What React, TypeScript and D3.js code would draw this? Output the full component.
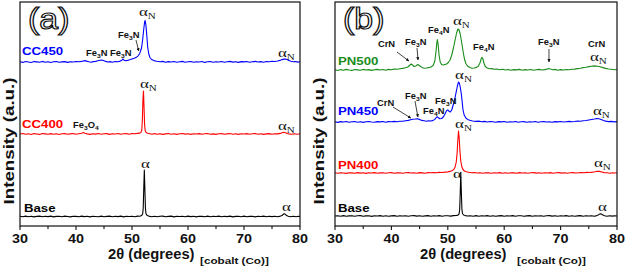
import React from 'react';
import * as d3 from 'd3';

type Pt = [number, number];

const X_TICKS = [30, 40, 50, 60, 70, 80];
const X_MINOR = [35, 45, 55, 65, 75];
const X_DOMAIN: [number, number] = [30, 80];
const Y_DOMAIN: [number, number] = [0, 224];

// ---------- Panel (a) traces (2θ, relative intensity a.u.) ----------
const baseA: Pt[] = [
  [30,0.2],[30.5,-0.3],[31,0.4],[31.5,-0.2],[32,0.3],[32.5,-0.4],[33,0.1],[33.5,0.4],[34,-0.3],[34.5,0.2],[35,-0.1],[35.5,0.4],[36,-0.4],[36.5,0.1],[37,0.3],[37.5,-0.3],[38,0.4],[38.5,0],[39,-0.4],[39.5,0.3],[40,0.1],[40.5,-0.3],[41,0.4],[41.5,-0.1],[42,0.2],[42.5,-0.4],[43,0.3],[43.5,0],[44,-0.3],[44.5,0.4],[45,-0.2],[45.5,0.1],[46,0.4],[46.5,-0.3],[47,0.2],[47.5,-0.1],[48,0.4],[48.5,-0.4],[49,0.2],[49.5,0],[50,0.3],[50.5,-0.3],[51,0.4],[51.4,0.3],[51.7,0.9],[51.9,2.5],[52.0,8],[52.1,28],[52.2,46.5],[52.3,27],[52.4,8],[52.5,2.8],[52.7,1.1],[53.0,0.4],[53.5,-0.2],[54,0.3],[54.5,-0.3],[55,0.2],[55.5,0.4],[56,-0.3],[56.5,0.1],[57,0.4],[57.5,-0.4],[58,0.2],[58.5,0],[59,0.3],[59.5,-0.3],[60,0.4],[60.5,-0.1],[61,0.2],[61.5,-0.4],[62,0.3],[62.5,0.1],[63,-0.3],[63.5,0.4],[64,-0.2],[64.5,0.2],[65,0],[65.5,0.4],[66,-0.3],[66.5,0.2],[67,-0.1],[67.5,0.4],[68,-0.4],[68.5,0.1],[69,0.3],[69.5,-0.2],[70,0.4],[70.5,-0.3],[71,0.1],[71.5,0.3],[72,-0.4],[72.5,0.2],[73,0],[73.5,0.4],[74,-0.3],[74.5,0.2],[75,-0.1],[75.5,0.3],[76,-0.3],[76.5,0.4],[76.8,1],[77.0,2.2],[77.2,2.8],[77.4,2.1],[77.6,0.9],[77.9,0.3],[78.3,-0.2],[78.8,0.3],[79.3,-0.3],[79.7,0.2],[80,0]
];
const cc400: Pt[] = [
  [30,0],[30.5,0.5],[31,-0.3],[31.5,0.2],[32,-0.5],[32.5,0.4],[33,0],[33.5,-0.4],[34,0.5],[34.5,0.1],[35,-0.3],[35.5,0.4],[36,-0.2],[36.5,0.3],[37,-0.5],[37.5,0.2],[38,0.4],[38.5,-0.3],[39,0.1],[39.5,0.5],[40,-0.2],[40.5,0.3],[41,0.8],[41.3,1.4],[41.6,0.7],[42,0.1],[42.5,-0.4],[43,0.3],[43.5,-0.1],[44,0.5],[44.5,-0.3],[45,0.2],[45.5,0.4],[46,-0.4],[46.5,0.3],[47,0],[47.5,0.5],[48,-0.3],[48.5,0.2],[49,0.4],[49.5,-0.2],[50,0.5],[50.5,0.2],[51,0.6],[51.4,0.9],[51.6,1.6],[51.75,4],[51.85,14],[51.95,34],[52.05,43],[52.15,27],[52.25,9],[52.35,3.5],[52.5,1.6],[52.8,0.8],[53.2,0.3],[53.6,-0.3],[54,0.4],[54.5,-0.2],[55,0.3],[55.5,-0.4],[56,0.1],[56.5,0.5],[57,-0.2],[57.5,0.3],[58,-0.4],[58.5,0.2],[59,0.5],[59.5,-0.1],[60,0.3],[60.5,-0.4],[61,0.2],[61.5,0],[62,0.4],[62.5,-0.3],[63,0.2],[63.5,0.5],[64,-0.2],[64.5,0.1],[65,-0.4],[65.5,0.3],[66,0.4],[66.5,-0.3],[67,0.1],[67.5,0.5],[68,-0.2],[68.5,0.3],[69,-0.4],[69.5,0.2],[70,0],[70.5,0.4],[71,-0.3],[71.5,0.2],[72,0.5],[72.5,-0.2],[73,0.3],[73.5,-0.4],[74,0.1],[74.5,0.4],[75,-0.2],[75.5,0.3],[76,0.1],[76.5,0.6],[76.8,1.2],[77.1,1.7],[77.4,1.2],[77.7,0.5],[78,0.1],[78.5,-0.3],[79,0.3],[79.5,-0.2],[80,0.2]
];
const cc450: Pt[] = [
  [30,0.3],[30.5,-0.4],[31,0.5],[31.5,0],[32,-0.5],[32.5,0.4],[33,0.1],[33.5,-0.3],[34,0.6],[34.5,-0.2],[35,0.3],[35.5,-0.5],[36,0.2],[36.5,0.5],[37,-0.3],[37.5,0.1],[38,0.4],[38.5,-0.4],[39,0.3],[39.5,0],[40,0.5],[40.5,0.2],[41,0.6],[41.3,1],[41.6,1.4],[41.9,0.9],[42.3,0.3],[42.7,-0.2],[43.1,0.4],[43.5,0.6],[43.9,1.2],[44.3,1.7],[44.6,2],[44.9,1.4],[45.3,0.6],[45.7,0],[46.1,0.4],[46.5,-0.2],[47,0.5],[47.5,0.3],[47.9,0.9],[48.2,1.8],[48.4,3],[48.6,1.7],[48.9,1.2],[49.2,1.6],[49.6,2.2],[50,3],[50.4,3.7],[50.8,4.8],[51.1,6.2],[51.4,8.8],[51.7,14],[51.9,22],[52.1,33],[52.25,40],[52.35,41.5],[52.5,36],[52.65,26],[52.8,15],[53,8],[53.2,4.5],[53.5,2.5],[53.9,1.4],[54.4,0.8],[55,0.2],[55.5,0.6],[56,-0.2],[56.5,0.4],[57,0],[57.5,0.5],[58,-0.3],[58.5,0.3],[59,0.6],[59.5,-0.2],[60,0.2],[60.5,0.5],[61,-0.3],[61.5,0.3],[62,0],[62.5,0.5],[63,-0.4],[63.5,0.2],[64,0.5],[64.5,-0.2],[65,0.3],[65.5,0],[66,0.5],[66.5,-0.3],[67,0.2],[67.5,0.6],[68,-0.1],[68.5,0.3],[69,-0.4],[69.5,0.4],[70,0.1],[70.5,0.5],[71,-0.2],[71.5,0.3],[72,0.6],[72.5,0],[73,0.4],[73.5,-0.2],[74,0.5],[74.5,0.3],[75,0.7],[75.5,0.5],[76,1],[76.4,1.6],[76.8,2.4],[77.1,2.9],[77.4,3],[77.7,2.4],[78,1.5],[78.4,0.7],[78.8,0.2],[79.2,0.5],[79.6,-0.1],[80,0.3]
];

// ---------- Panel (b) traces ----------
const baseB: Pt[] = [
  [30,0],[30.5,0.3],[31,-0.2],[31.5,0.4],[32,-0.3],[32.5,0.1],[33,0.3],[33.5,-0.3],[34,0.2],[34.5,0.4],[35,-0.2],[35.5,0.1],[36,0.3],[36.5,-0.4],[37,0.2],[37.5,0],[38,0.4],[38.5,-0.2],[39,0.3],[39.5,-0.3],[40,0.1],[40.5,0.4],[41,-0.2],[41.5,0.2],[42,0],[42.5,0.3],[43,-0.3],[43.5,0.2],[44,0.4],[44.5,-0.1],[45,0.3],[45.5,-0.3],[46,0.1],[46.5,0.4],[47,-0.2],[47.5,0.2],[48,0],[48.5,0.4],[49,-0.3],[49.5,0.2],[50,0.3],[50.5,-0.1],[51,0.4],[51.5,0.5],[51.8,0.9],[52.0,2.2],[52.1,6],[52.2,22],[52.3,43],[52.4,24],[52.5,7],[52.6,2.5],[52.8,1],[53.1,0.4],[53.5,0],[54,0.3],[54.5,-0.2],[55,0.4],[55.5,-0.3],[56,0.2],[56.5,0],[57,0.4],[57.5,-0.2],[58,0.3],[58.5,-0.3],[59,0.1],[59.5,0.4],[60,-0.2],[60.5,0.2],[61,0],[61.5,0.4],[62,-0.3],[62.5,0.2],[63,0.3],[63.5,-0.2],[64,0.1],[64.5,0.4],[65,-0.3],[65.5,0.2],[66,0],[66.5,0.3],[67,-0.3],[67.5,0.2],[68,0.4],[68.5,-0.1],[69,0.2],[69.5,-0.3],[70,0.3],[70.5,0],[71,0.4],[71.5,-0.2],[72,0.2],[72.5,-0.3],[73,0.1],[73.5,0.4],[74,-0.2],[74.5,0.2],[75,0],[75.5,0.3],[76,-0.2],[76.4,0.4],[76.7,1.1],[76.9,1.9],[77.1,2.3],[77.3,1.8],[77.5,0.9],[77.8,0.3],[78.2,-0.2],[78.7,0.3],[79.2,-0.1],[79.6,0.3],[80,0]
];
const pn400: Pt[] = [
  [30,0.2],[30.5,-0.3],[31,0.3],[31.5,0],[32,-0.4],[32.5,0.3],[33,0.1],[33.5,-0.3],[34,0.4],[34.5,-0.1],[35,0.2],[35.5,-0.4],[36,0.3],[36.5,0],[37,0.4],[37.5,-0.3],[38,0.1],[38.5,0.3],[39,-0.3],[39.5,0.2],[40,0.4],[40.5,-0.2],[41,0.1],[41.5,0.3],[42,-0.3],[42.5,0.2],[43,0.4],[43.5,0],[44,0.3],[44.5,-0.2],[45,0.4],[45.5,0.1],[46,-0.2],[46.5,0.4],[47,0.2],[47.5,0.5],[48,0.2],[48.5,0.6],[49,0.5],[49.5,0.9],[50,1.1],[50.4,1.6],[50.8,2.4],[51.1,3.8],[51.3,6],[51.5,11],[51.65,20],[51.78,33],[51.9,42],[52.02,35],[52.15,22],[52.3,12],[52.5,6],[52.7,3.5],[52.95,2],[53.3,1.2],[53.7,0.7],[54.2,0.3],[54.7,0.5],[55.2,0],[55.7,0.3],[56.2,-0.2],[56.7,0.3],[57.2,0.1],[57.7,-0.3],[58.2,0.3],[58.7,0],[59.2,0.4],[59.7,-0.2],[60.2,0.2],[60.7,-0.3],[61.2,0.3],[61.7,0.1],[62.2,-0.2],[62.7,0.4],[63.2,0],[63.7,0.3],[64.2,-0.3],[64.7,0.2],[65.2,0.4],[65.7,-0.1],[66.2,0.2],[66.7,-0.3],[67.2,0.3],[67.7,0],[68.2,0.4],[68.7,-0.2],[69.2,0.2],[69.7,0.4],[70.2,-0.1],[70.7,0.3],[71.2,-0.3],[71.7,0.2],[72.2,0.4],[72.7,0],[73.2,0.3],[73.7,0.5],[74.2,0.2],[74.7,0.6],[75.2,0.5],[75.7,0.9],[76.1,1.3],[76.5,1.8],[76.9,1.6],[77.3,1],[77.7,0.4],[78.2,0.2],[78.7,-0.2],[79.2,0.3],[79.6,0],[80,0.2]
];
const pn450: Pt[] = [
  [30,0.3],[30.5,-0.4],[31,0.4],[31.5,0],[32,0.5],[32.5,-0.3],[33,0.2],[33.5,0.5],[34,-0.2],[34.5,0.3],[35,-0.4],[35.5,0.2],[36,0.5],[36.5,0],[37,-0.3],[37.5,0.4],[38,0.1],[38.5,0.5],[39,-0.2],[39.5,0.4],[40,0.2],[40.5,0.6],[41,0.3],[41.5,0.8],[42,0.7],[42.5,1.2],[43,1.6],[43.4,2.2],[43.8,2.8],[44.2,3],[44.6,3.3],[45,2.6],[45.4,1.6],[45.8,1.2],[46.2,0.8],[46.6,1.3],[47,1],[47.4,1.6],[47.7,2.6],[47.95,4.5],[48.15,5.2],[48.35,4.2],[48.6,3.2],[48.9,3.5],[49.2,5],[49.5,8],[49.8,11.5],[50.0,12],[50.2,10.8],[50.45,10],[50.7,12],[50.95,17],[51.2,22],[51.45,29],[51.7,36],[51.9,40],[52.05,39],[52.2,35],[52.4,28],[52.55,20],[52.7,12],[52.9,7],[53.2,4],[53.5,2.6],[53.9,1.7],[54.4,1],[55,0.6],[55.5,0.9],[56,0.3],[56.5,0.6],[57,0],[57.5,0.5],[58,0.2],[58.5,-0.3],[59,0.4],[59.5,0.1],[60,0.5],[60.5,-0.2],[61,0.3],[61.5,0],[62,0.5],[62.5,-0.3],[63,0.2],[63.5,0.4],[64,-0.2],[64.5,0.3],[65,0],[65.5,0.5],[66,-0.3],[66.5,0.2],[67,0.4],[67.5,0],[68,0.3],[68.5,-0.2],[69,0.4],[69.5,0.1],[70,0.5],[70.5,0],[71,0.3],[71.5,0.6],[72,0.2],[72.5,0.5],[73,0.9],[73.5,0.7],[74,1.2],[74.5,1.5],[75,2],[75.5,2.5],[76,3],[76.4,3.5],[76.8,3.2],[77.2,2.4],[77.6,1.5],[78,0.9],[78.5,0.4],[79,0.6],[79.5,0.1],[80,0.4]
];
const pn500: Pt[] = [
  [30,0.2],[30.5,-0.5],[31,0.4],[31.5,-0.2],[32,0.6],[32.5,0],[33,-0.4],[33.5,0.5],[34,0.1],[34.5,-0.3],[35,0.6],[35.5,0],[36,0.4],[36.5,-0.4],[37,0.3],[37.5,0.6],[38,0],[38.5,0.5],[39,-0.2],[39.5,0.6],[40,0.3],[40.5,0.9],[41,0.7],[41.5,1.3],[42,1.6],[42.5,2.2],[42.9,3],[43.2,4.5],[43.5,6],[43.75,5],[44.0,3.5],[44.3,4],[44.7,5.5],[45.0,4.2],[45.4,2.6],[45.8,1.8],[46.2,2],[46.6,2.4],[47,3],[47.4,4.5],[47.7,9],[47.9,18],[48.05,27],[48.15,30.5],[48.28,26],[48.45,15],[48.65,8],[48.9,5.5],[49.2,5],[49.5,5.6],[49.8,6],[50.1,7.5],[50.4,10],[50.7,15],[51.0,22],[51.3,30],[51.55,37],[51.8,41],[52.0,40],[52.2,36],[52.45,28],[52.7,19],[52.95,11],[53.2,6.5],[53.5,4],[53.9,2.5],[54.3,1.8],[54.7,2],[55.1,2.6],[55.4,3.8],[55.7,7],[55.9,11],[56.05,12.8],[56.2,11.5],[56.4,7],[56.65,3.5],[57,2],[57.4,1.2],[57.8,1.4],[58.2,0.7],[58.7,1],[59.2,0.3],[59.7,0.7],[60.2,0],[60.7,0.5],[61.2,-0.3],[61.7,0.4],[62.2,0.1],[62.7,0.6],[63.2,-0.2],[63.7,0.4],[64.2,0],[64.7,0.5],[65.2,-0.3],[65.7,0.3],[66.2,0.6],[66.7,0],[67.2,0.4],[67.6,0.9],[67.9,1.6],[68.2,1],[68.6,0.3],[69,0.6],[69.5,-0.2],[70,0.4],[70.5,0],[71,0.5],[71.5,0.3],[72,0.8],[72.5,0.9],[73,1.4],[73.5,1.8],[74,2.4],[74.5,2.8],[75,3.4],[75.5,3.8],[76,4.1],[76.5,3.8],[77,3.2],[77.5,2.4],[78,1.6],[78.5,1],[79,0.7],[79.5,0.2],[80,0.5]
];

const SERIES_A_NAMES = ['Base', 'CC400', 'CC450'];
const SERIES_A_DATA = [baseA, cc400, cc450];
const SERIES_A_OFFSETS = [9.5, 92, 164];
const SERIES_B_NAMES = ['Base', 'PN400', 'PN450', 'PN500'];
const SERIES_B_DATA = [baseB, pn400, pn450, pn500];
const SERIES_B_OFFSETS = [10, 53, 104, 156];

// annotation text: kind 'chem' | 'aN' | 'a'
type Ann = { kind: string; text: string; x: number; y: number };
const ANN_A: Ann[] = [
  { kind: 'chem', text: 'Fe3N', x: 41.79, y: 170 },
  { kind: 'chem', text: 'Fe3N', x: 46.07, y: 170 },
  { kind: 'chem', text: 'Fe3N', x: 47.5, y: 188 },
  { kind: 'aN', text: '', x: 51.25, y: 210 },
  { kind: 'aN', text: '', x: 76.07, y: 169 },
  { kind: 'chem', text: 'Fe3O4', x: 39.46, y: 98 },
  { kind: 'aN', text: '', x: 51.43, y: 138 },
  { kind: 'aN', text: '', x: 76.07, y: 96 },
  { kind: 'a', text: '', x: 51.6, y: 58 },
  { kind: 'a', text: '', x: 76.8, y: 15 },
];
const ARROWS_A: [number, number, number, number][] = [[50.71, 186, 51.2, 175]];
const NAME_POS_A: Pt[] = [[30.71, 14], [30.36, 98], [30.36, 171]];

const ANN_B: Ann[] = [
  { kind: 'chem', text: 'CrN', x: 37.62, y: 179 },
  { kind: 'chem', text: 'Fe3N', x: 42.41, y: 181 },
  { kind: 'chem', text: 'Fe4N', x: 46.49, y: 193 },
  { kind: 'aN', text: '', x: 50.92, y: 201 },
  { kind: 'chem', text: 'Fe4N', x: 54.47, y: 176 },
  { kind: 'chem', text: 'Fe3N', x: 65.99, y: 181 },
  { kind: 'chem', text: 'CrN', x: 74.86, y: 179 },
  { kind: 'aN', text: '', x: 75.21, y: 165 },
  { kind: 'chem', text: 'CrN', x: 37.45, y: 120 },
  { kind: 'chem', text: 'Fe3N', x: 42.41, y: 127 },
  { kind: 'chem', text: 'Fe4N', x: 45.6, y: 112 },
  { kind: 'chem', text: 'Fe3N', x: 47.73, y: 122 },
  { kind: 'aN', text: '', x: 51.28, y: 147 },
  { kind: 'aN', text: '', x: 75.74, y: 111 },
  { kind: 'aN', text: '', x: 51.28, y: 98 },
  { kind: 'aN', text: '', x: 75.92, y: 59 },
  { kind: 'a', text: '', x: 50.92, y: 48 },
  { kind: 'a', text: '', x: 76.63, y: 15 },
];
const ARROWS_B: [number, number, number, number][] = [
  [40.99, 174, 43.1, 165],
  [44.54, 178, 44.72, 166],
  [67.94, 177, 67.94, 164],
  [40.28, 119, 43.45, 108],
  [44.18, 125, 44.7, 109],
];
const NAME_POS_B: Pt[] = [[30.53, 14], [30.53, 57], [30.53, 111], [30.53, 161]];

const COLORS_A = ['#000000', '#ff0000', '#0000ff'];
const COLORS_B = ['#000000', '#ff0000', '#0000ff', '#1a8c1a'];

const SANS = '"Liberation Sans", Arial, Helvetica, sans-serif';
const SERIF = '"Liberation Serif", "Times New Roman", serif';

const TOP = 2;
const BOTTOM = 226;

function chem(text: string, size: number) {
  const parts = text.match(/\d+|\D+/g) || [];
  let sub = false;
  return parts.map((p, i) => {
    if (/\d/.test(p)) {
      sub = true;
      return <tspan key={i} fontSize={size * 0.72} dy={size * 0.28}>{p}</tspan>;
    }
    const dy = sub ? -size * 0.28 : 0;
    sub = false;
    return <tspan key={i} dy={dy}>{p}</tspan>;
  });
}

function Panel(props: {
  left: number; right: number; letter: string;
  names: string[]; data: Pt[][]; offsets: number[]; colors: string[];
  namePos: Pt[]; ann: Ann[]; arrows: [number, number, number, number][];
  ylabelX: number; titleX: number; cobaltX: number;
}) {
  const { left, right } = props;
  const x = d3.scaleLinear().domain(X_DOMAIN).range([left, right]);
  const y = d3.scaleLinear().domain(Y_DOMAIN).range([BOTTOM, TOP]);
  return (
    <g>
      {props.data.map((d, i) => {
        const line = d3.line<Pt>().x(p => x(p[0])).y(p => y(p[1] + props.offsets[i]));
        return <path key={i} d={line(d) || ''} fill="none" stroke={props.colors[i]} strokeWidth={1.1} strokeLinejoin="round" />;
      })}
      <rect x={left} y={TOP} width={right - left} height={BOTTOM - TOP} fill="none" stroke="#111" strokeWidth={1.2} />
      {X_TICKS.map(t => (
        <g key={t}>
          <line x1={x(t)} x2={x(t)} y1={BOTTOM} y2={BOTTOM + 4} stroke="#111" strokeWidth={1.1} />
          <text transform={`translate(${x(t)},243) scale(1.15,1)`} textAnchor="middle" fontFamily={SANS} fontWeight="bold" fontSize={12.5} fill="#111">{t}</text>
        </g>
      ))}
      {X_MINOR.map(t => (
        <line key={t} x1={x(t)} x2={x(t)} y1={BOTTOM} y2={BOTTOM + 3} stroke="#111" strokeWidth={1.1} />
      ))}
      <text transform={`translate(${props.titleX},259) scale(0.95,1)`} fontFamily={SANS} fontWeight="bold" fontSize={15.5} fill="#111">2θ (degrees)</text>
      <text transform={`translate(${props.cobaltX},264) scale(1.3,1)`} fontFamily={SANS} fontWeight="bold" fontSize={9} fill="#111">[cobalt (Co)]</text>
      <text transform={`translate(${props.ylabelX},141) rotate(-90) scale(1.25,1)`} textAnchor="middle" fontFamily={SANS} fontWeight="bold" fontSize={15} fill="#111">Intensity (a.u.)</text>
      <text transform={`translate(${left + 8},29) scale(1.13,1)`} fontFamily={SANS} fontSize={30} fill="#fff" stroke="#111" strokeWidth={1.2}>{props.letter}</text>
      {props.names.map((n, i) => (
        <text key={n} transform={`translate(${x(props.namePos[i][0])},${y(props.namePos[i][1])}) scale(1.15,1)`} fontFamily={SANS} fontWeight="bold" fontSize={11.5} fill={props.colors[i]}>{n}</text>
      ))}
      {props.ann.map((a, i) => {
        const tx = x(a.x), ty = y(a.y);
        if (a.kind === 'chem') {
          return <text key={i} transform={`translate(${tx},${ty}) scale(1.1,1)`} fontFamily={SANS} fontWeight="bold" fontSize={8.5} fill="#111">{chem(a.text, 8.5)}</text>;
        }
        if (a.kind === 'aN') {
          return (
            <text key={i} transform={`translate(${tx},${ty}) scale(1.3,1)`} fontFamily={SERIF} fill="#111">
              <tspan fontSize={13}>α</tspan>
              <tspan fontSize={8.5} dy={2.5}>N</tspan>
            </text>
          );
        }
        return <text key={i} transform={`translate(${tx},${ty}) scale(1.3,1)`} fontFamily={SERIF} fontSize={13} fill="#111">α</text>;
      })}
      {props.arrows.map((a, i) => (
        <line key={i} x1={x(a[0])} y1={y(a[1])} x2={x(a[2])} y2={y(a[3])} stroke="#111" strokeWidth={0.8} markerEnd="url(#arr)" />
      ))}
    </g>
  );
}

export default function App() {
  return (
    <svg width={627} height={270} viewBox="0 0 627 270" style={{ position: 'absolute', left: 0, top: 0, background: '#fff' }}>
      <defs>
        <marker id="arr" viewBox="0 0 10 10" refX="9" refY="5" markerWidth="4" markerHeight="4" orient="auto">
          <path d="M0,0 L10,5 L0,10 z" fill="#111" />
        </marker>
      </defs>
      <rect width={627} height={270} fill="#fff" />
      <Panel left={20} right={300} letter="(a)" names={SERIES_A_NAMES} data={SERIES_A_DATA} offsets={SERIES_A_OFFSETS}
        colors={COLORS_A} namePos={NAME_POS_A} ann={ANN_A} arrows={ARROWS_A} ylabelX={14} titleX={108} cobaltX={200} />
      <Panel left={335} right={617} letter="(b)" names={SERIES_B_NAMES} data={SERIES_B_DATA} offsets={SERIES_B_OFFSETS}
        colors={COLORS_B} namePos={NAME_POS_B} ann={ANN_B} arrows={ARROWS_B} ylabelX={324} titleX={420} cobaltX={517} />
    </svg>
  );
}
